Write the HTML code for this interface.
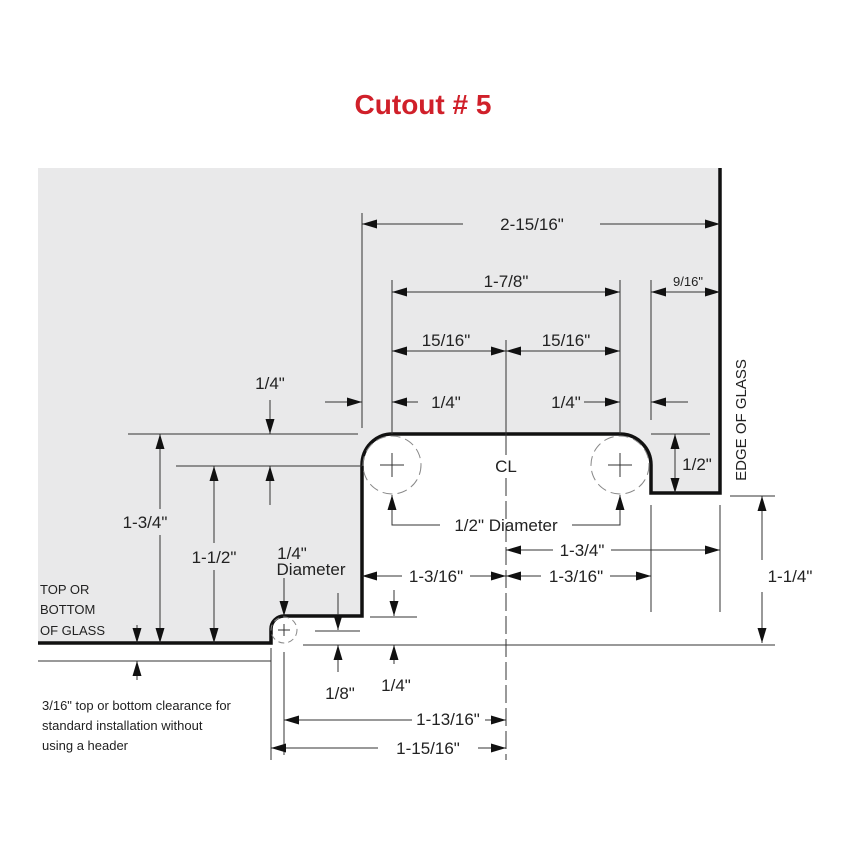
<!DOCTYPE html>
<html><head><meta charset="utf-8"><style>
html,body{margin:0;padding:0;background:#fff}
svg{display:block}
text{font-family:"Liberation Sans",Arial,sans-serif;fill:#222}
</style></head><body>
<svg width="850" height="850" viewBox="0 0 850 850" xmlns="http://www.w3.org/2000/svg">
<defs>
<marker id="a" markerUnits="userSpaceOnUse" markerWidth="16" markerHeight="10" refX="15" refY="4.5" orient="auto-start-reverse">
<path d="M0,0 L15,4.5 L0,9 z" fill="#111"/>
</marker>
</defs>
<text x="423" y="114" text-anchor="middle" font-size="28" font-weight="bold" style="fill:#d0202a">Cutout # 5</text>
<path d="M38,168 H720 V493 H651 V465 A31,31 0 0 0 620,434 H392 A30,31 0 0 0 362,465 V616 H284 A13,13 0 0 0 271,629 V643 H38 Z" fill="#e9e9ea"/>
<path d="M38,643 H271 V629 A13,13 0 0 1 284,616 H362 V465 A30,31 0 0 1 392,434 H620 A31,31 0 0 1 651,465 V493 H720 V168" fill="none" stroke="#111" stroke-width="3.5"/>
<g fill="none" stroke="#888" stroke-width="1" stroke-dasharray="10,5">
<circle cx="392" cy="465" r="29"/><circle cx="620" cy="465" r="29"/><circle cx="284" cy="630" r="13" stroke-dasharray="6,4"/>
</g>
<g stroke="#333" stroke-width="1" fill="none">
<path d="M380,465 h24 M392,453 v24 M608,465 h24 M620,453 v24 M278,630 h12 M284,624 v12"/>
<path d="M362,213 V428 M392,280 V434 M620,280 V434 M651,280 V420 M128,434 H358 M176,466 H362 M651,434 H710 M651,505 V612 M720,505 V612 M730,496 H775 M303,645 H775 M315,631 H360 M370,617 H417 M38,661 H271 M271,648 V760 M284,652 V755"/>
<path d="M506,340 V455" /><path d="M506,478 V760" stroke-dasharray="18,5"/>
<path d="M463,224 H362" marker-end="url(#a)"/><path d="M600,224 H720" marker-end="url(#a)"/>
<path d="M392,292 H620" marker-start="url(#a)" marker-end="url(#a)"/>
<path d="M651,292 H720" marker-start="url(#a)" marker-end="url(#a)"/>
<path d="M392,351 H506" marker-start="url(#a)" marker-end="url(#a)"/>
<path d="M506,351 H620" marker-start="url(#a)" marker-end="url(#a)"/>
<path d="M325,402 H362" marker-end="url(#a)"/>
<path d="M418,402 H392" marker-end="url(#a)"/>
<path d="M584,402 H620" marker-end="url(#a)"/>
<path d="M688,402 H651" marker-end="url(#a)"/>
<path d="M270,400 V434" marker-end="url(#a)"/>
<path d="M270,505 V466" marker-end="url(#a)"/>
<path d="M160,434 V509" marker-start="url(#a)"/><path d="M160,535 V643" marker-end="url(#a)"/>
<path d="M214,466 V543" marker-start="url(#a)"/><path d="M214,570 V643" marker-end="url(#a)"/>
<path d="M137,625 V643" marker-end="url(#a)"/>
<path d="M137,680 V661" marker-end="url(#a)"/>
<path d="M675,434 V493" marker-start="url(#a)" marker-end="url(#a)"/>
<path d="M440,525 H392 V495" marker-end="url(#a)"/>
<path d="M572,525 H620 V495" marker-end="url(#a)"/>
<path d="M553,550 H506" marker-end="url(#a)"/><path d="M611,550 H720" marker-end="url(#a)"/>
<path d="M402,576 H362" marker-end="url(#a)"/><path d="M470,576 H506" marker-end="url(#a)"/>
<path d="M541,576 H506" marker-end="url(#a)"/><path d="M610,576 H651" marker-end="url(#a)"/>
<path d="M762,496 V560" marker-start="url(#a)"/><path d="M762,592 V643" marker-end="url(#a)"/>
<path d="M284,578 V616" marker-end="url(#a)"/>
<path d="M338,593 V630" marker-end="url(#a)"/>
<path d="M338,672 V645" marker-end="url(#a)"/>
<path d="M394,590 V616" marker-end="url(#a)"/>
<path d="M394,664 V645" marker-end="url(#a)"/>
<path d="M412,720 H284" marker-end="url(#a)"/><path d="M485,720 H506" marker-end="url(#a)"/>
<path d="M378,748 H271" marker-end="url(#a)"/><path d="M478,748 H506" marker-end="url(#a)"/>
</g>
<g font-size="17" text-anchor="middle">
<text x="532" y="230">2-15/16"</text>
<text x="506" y="287">1-7/8"</text>
<text x="688" y="286" font-size="13">9/16"</text>
<text x="446" y="346">15/16"</text>
<text x="566" y="346">15/16"</text>
<text x="270" y="389">1/4"</text>
<text x="446" y="408">1/4"</text>
<text x="566" y="408">1/4"</text>
<text x="506" y="472" font-size="17">CL</text>
<text x="506" y="531">1/2" Diameter</text>
<text x="145" y="528">1-3/4"</text>
<text x="214" y="563">1-1/2"</text>
<text x="697" y="470">1/2"</text>
<text x="582" y="556">1-3/4"</text>
<text x="436" y="582">1-3/16"</text>
<text x="576" y="582">1-3/16"</text>
<text x="790" y="582">1-1/4"</text>
<text x="292" y="559">1/4"</text>
<text x="311" y="575">Diameter</text>
<text x="340" y="699">1/8"</text>
<text x="396" y="691">1/4"</text>
<text x="448" y="725">1-13/16"</text>
<text x="428" y="754">1-15/16"</text>
</g>
<text x="746" y="420" font-size="15" text-anchor="middle" transform="rotate(-90 746 420)">EDGE OF GLASS</text>
<g font-size="13">
<text x="40" y="594">TOP OR</text>
<text x="40" y="614">BOTTOM</text>
<text x="40" y="635">OF GLASS</text>
<text x="42" y="710">3/16" top or bottom clearance for</text>
<text x="42" y="730">standard installation without</text>
<text x="42" y="750">using a header</text>
</g>
</svg>
</body></html>
